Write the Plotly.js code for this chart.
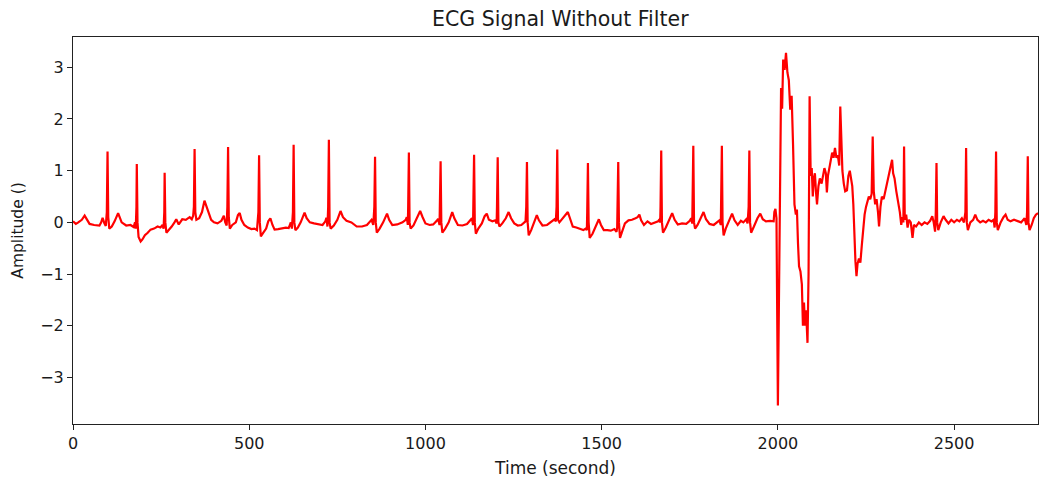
<!DOCTYPE html>
<html>
<head>
<meta charset="utf-8">
<script src="https://cdn.plot.ly/plotly-3.0.1.min.js"></script>
<style>html,body{margin:0;padding:0;background:#fff;}#chart{width:1039px;height:482px;}</style>
</head>
<body>
<div id="chart"></div>
<script>
const timeSec = [0,8,15,25,33,40,47,60,75,80,84,89,93,96,98,100,103,110,118,128,133,138,151,163,172,176,178,180,181,183,186,192,197,204,212,220,230,240,248,254,257,259,260,262,265,272,280,288,293,300,310,320,331,337,341,343,345,347,350,358,366,373,378,384,392,400,410,421,428,432,436,438,440,442,445,452,462,468,473,478,486,496,506,515,522,526,528,530,533,540,548,554,560,566,572,582,594,604,612,618,621,624,626,628,631,638,646,652,657,663,672,684,696,708,716,719,722,724,726,728,731,740,750,759,766,776,790,805,820,834,847,852,855,857,859,862,870,880,891,897,906,920,935,944,947,950,951,953,955,958,966,976,985,992,1000,1012,1022,1032,1036,1040,1041,1043,1045,1048,1056,1066,1076,1082,1092,1105,1118,1128,1132,1135,1136,1138,1140,1143,1150,1160,1168,1174,1180,1190,1198,1202,1203,1205,1207,1210,1218,1228,1236,1243,1252,1262,1272,1280,1284,1286,1288,1290,1293,1300,1308,1316,1322,1332,1345,1358,1366,1370,1372,1374,1376,1380,1390,1398,1404,1410,1418,1428,1438,1448,1455,1458,1459,1461,1463,1466,1474,1484,1492,1498,1506,1516,1526,1536,1542,1544,1545,1547,1549,1552,1558,1566,1576,1586,1596,1602,1607,1612,1620,1630,1640,1652,1660,1664,1666,1667,1669,1671,1674,1682,1692,1700,1707,1716,1728,1740,1750,1754,1757,1758,1760,1762,1765,1772,1782,1789,1796,1806,1818,1828,1834,1838,1839,1841,1843,1846,1852,1862,1870,1877,1886,1895,1902,1910,1914,1917,1919,1921,1924,1932,1942,1950,1957,1966,1978,1988,1990,1993,1996,2000,2005,2009,2012,2015,2019,2023,2027,2031,2035,2039,2043,2047,2051,2054,2057,2060,2064,2068,2071,2074,2077,2080,2084,2087,2090,2093,2096,2099,2102,2105,2108,2111,2115,2119,2124,2128,2132,2136,2139,2142,2146,2150,2154,2158,2162,2166,2170,2174,2177,2180,2183,2187,2191,2196,2200,2204,2208,2211,2214,2217,2220,2223,2226,2230,2234,2238,2242,2246,2250,2254,2258,2262,2266,2269,2272,2276,2280,2284,2287,2291,2295,2300,2305,2310,2315,2320,2324,2327,2331,2336,2341,2346,2350,2353,2356,2358,2360,2364,2368,2372,2377,2382,2386,2392,2400,2408,2416,2424,2432,2438,2442,2446,2448,2450,2452,2455,2462,2470,2476,2484,2492,2500,2508,2515,2522,2528,2532,2534,2536,2539,2546,2554,2560,2566,2574,2582,2590,2598,2606,2612,2615,2617,2619,2621,2624,2632,2640,2646,2652,2660,2670,2680,2690,2700,2705,2707,2709,2711,2714,2720,2726,2732,2738];
const amplitude = [0.02,-0.03,0.0,0.05,0.13,0.05,-0.03,-0.05,-0.06,0.0,0.09,-0.02,-0.07,0.2,1.37,0.1,-0.12,-0.08,0.02,0.18,0.1,0.0,-0.06,-0.05,-0.09,0.0,-0.12,0.3,1.13,0.0,-0.28,-0.37,-0.33,-0.25,-0.2,-0.14,-0.12,-0.08,-0.1,-0.05,-0.12,0.2,0.96,0.0,-0.2,-0.15,-0.08,0.0,0.06,-0.04,0.06,0.05,0.1,0.06,0.13,0.3,1.42,0.2,0.05,0.08,0.2,0.42,0.32,0.18,0.05,0.0,-0.02,0.03,0.13,0.0,-0.06,0.3,1.46,0.1,-0.12,-0.05,0.0,0.14,0.18,0.05,-0.05,-0.1,-0.13,-0.12,-0.15,0.2,1.30,0.0,-0.27,-0.2,-0.12,0.02,0.08,-0.05,-0.14,-0.13,-0.12,-0.1,-0.11,0.0,-0.12,0.2,1.50,0.0,-0.15,-0.1,0.0,0.1,0.19,0.08,0.0,-0.02,-0.04,-0.05,0.02,0.09,-0.08,0.3,1.60,0.0,-0.12,-0.06,0.05,0.22,0.1,0.03,0.0,-0.08,-0.08,-0.05,0.05,-0.05,0.3,1.27,0.0,-0.2,-0.12,0.0,0.17,0.05,-0.05,-0.04,0.0,0.05,0.1,-0.05,0.3,1.35,0.0,-0.12,-0.06,0.08,0.22,0.1,-0.02,-0.05,-0.04,0.03,0.07,-0.05,0.3,1.18,0.0,-0.2,-0.12,0.0,0.2,0.08,-0.05,-0.06,-0.03,0.04,0.08,-0.05,0.3,1.31,0.0,-0.22,-0.12,-0.02,0.12,0.17,0.05,0.02,0.04,-0.02,0.3,1.26,0.0,-0.08,-0.02,0.08,0.2,0.08,-0.02,-0.06,-0.05,0.0,0.02,0.3,1.17,0.0,-0.25,-0.15,-0.02,0.14,0.04,-0.06,-0.05,0.02,0.06,0.02,0.3,1.41,0.05,0.0,0.08,0.15,0.2,0.08,-0.08,-0.1,-0.12,-0.15,-0.12,-0.15,0.2,1.15,0.0,-0.3,-0.22,-0.05,0.06,-0.05,-0.15,-0.15,-0.16,-0.13,-0.18,-0.1,0.2,1.17,0.0,-0.3,-0.18,-0.02,0.04,0.05,0.08,0.1,0.15,0.04,-0.05,0.02,-0.03,0.0,0.02,0.06,0.0,0.3,1.39,0.0,-0.2,-0.1,0.05,0.18,0.05,-0.04,-0.02,-0.03,0.03,0.08,-0.02,0.3,1.48,0.0,-0.12,-0.05,0.08,0.2,0.06,-0.03,-0.05,0.0,0.04,-0.05,0.3,1.48,0.0,-0.25,-0.12,0.05,0.17,0.04,-0.05,0.03,0.0,0.06,-0.02,0.3,1.39,0.0,-0.2,-0.08,0.08,0.17,0.06,0.02,0.03,0.02,0.2,0.26,0.08,-3.54,0.5,2.6,2.2,3.15,2.95,3.28,2.9,2.75,2.18,2.45,1.5,0.35,0.15,0.25,-0.4,-0.85,-0.95,-1.2,-2.0,-1.55,-2.0,-1.7,-2.33,-1.0,2.44,0.9,1.05,0.5,0.85,0.95,0.6,0.35,0.7,0.85,0.75,0.95,1.05,0.95,0.58,0.9,1.1,1.2,1.35,1.25,1.44,1.25,1.3,1.1,2.24,1.4,1.0,0.75,0.6,0.62,0.9,1.0,0.85,0.7,0.35,-0.3,-0.75,-1.04,-0.8,-0.7,-0.78,-0.45,-0.05,0.15,0.3,0.4,0.5,0.45,0.55,1.66,0.6,0.35,0.45,0.2,-0.08,0.3,0.5,0.45,0.6,0.75,0.95,1.1,1.21,0.95,0.85,0.6,0.4,0.2,-0.05,0.1,0.0,1.47,0.05,0.15,-0.1,0.05,0.0,-0.3,-0.05,-0.08,0.0,-0.05,0.0,-0.03,0.03,0.12,0.0,-0.18,0.2,1.15,0.0,-0.15,0.0,0.12,0.05,-0.02,0.05,0.0,0.05,0.02,0.08,0.0,0.2,1.44,0.0,-0.15,0.0,0.05,0.15,0.05,0.0,0.03,0.0,0.05,0.02,0.05,-0.1,0.2,1.37,0.0,-0.15,0.0,0.1,0.15,0.05,0.02,0.05,0.03,0.0,0.08,-0.05,0.2,1.28,0.0,-0.15,-0.05,0.08,0.15,0.18];
const xTickVals = [0,500,1000,1500,2000,2500];
const yTickVals = [-3,-2,-1,0,1,2,3];

const font = {family: 'DejaVu Sans, sans-serif', color: '#1a1a1a'};
Plotly.newPlot('chart', [{
  x: timeSec, y: amplitude, type: 'scatter', mode: 'lines',
  line: {color: '#ff0000', width: 2.2}, hoverinfo: 'skip'
}], {
  width: 1039, height: 482,
  margin: {l: 73, r: 1, t: 37, b: 58},
  paper_bgcolor: '#ffffff', plot_bgcolor: '#ffffff',
  showlegend: false,
  title: {text: 'ECG Signal Without Filter', xref: 'paper', x: 0.505, xanchor: 'center', yref: 'container', y: 0.96, yanchor: 'middle', font: Object.assign({size: 20.5}, font)},
  xaxis: {
    range: [0, 2738], tickvals: xTickVals, ticks: 'outside', ticklen: 5, tickcolor: '#222', tickwidth: 1,
    showline: true, mirror: true, linecolor: '#222', linewidth: 1, showgrid: false, zeroline: false,
    tickfont: Object.assign({size: 16}, font),
    title: {text: 'Time (second)', font: Object.assign({size: 17}, font), standoff: 9}
  },
  yaxis: {
    range: [-3.90, 3.586], tickvals: yTickVals, ticks: 'outside', ticklen: 5, tickcolor: '#222', tickwidth: 1,
    showline: true, mirror: true, linecolor: '#222', linewidth: 1, showgrid: false, zeroline: false,
    tickfont: Object.assign({size: 16}, font),
    title: {text: 'Amplitude ()', font: Object.assign({size: 15.5}, font), standoff: 12}
  }
}, {staticPlot: true});
</script>
</body>
</html>
